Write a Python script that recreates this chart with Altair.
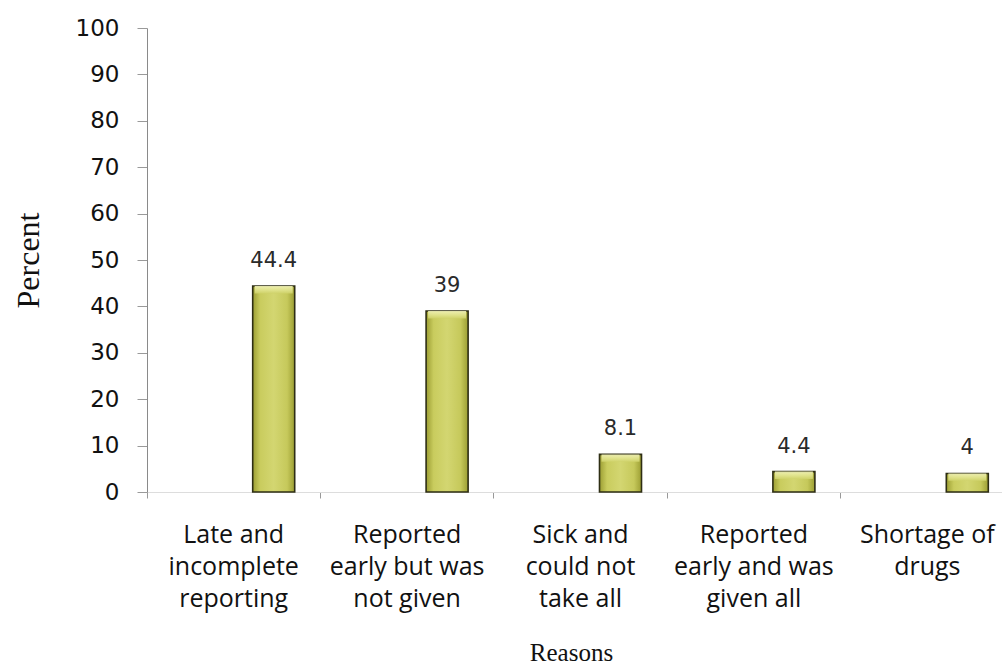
import altair as alt
import pandas as pd

# Reasons for not completing treatment, and the share of respondents giving each
reasons = [
    "Late and|incomplete|reporting",
    "Reported|early but was|not given",
    "Sick and|could not|take all",
    "Reported|early and was|given all",
    "Shortage of|drugs",
]
percent = [44.4, 39, 8.1, 4.4, 4]

df = pd.DataFrame({"reason": reasons, "percent": percent})

x_enc = alt.X(
    "reason:N",
    sort=reasons,
    scale=alt.Scale(range=[0, 867], paddingInner=0, paddingOuter=0),
    axis=alt.Axis(
        title="Reasons",
        titleFont="Liberation Serif",
        titleFontSize=25,
        titleFontWeight="normal",
        titleColor="#111111",
        titleX=424,
        titleY=168,
        titleBaseline="alphabetic",
        labelExpr="split(datum.label, '|')",
        labelFont="Open Sans",
        labelFontSize=25,
        labelColor="#111111",
        labelAngle=0,
        labelLineHeight=32,
        labelBaseline="alphabetic",
        labelPadding=44,
        labelLimit=300,
        bandPosition=0,
        tickSize=6,
        tickColor="#999999",
        domainColor="#dddddd",
        domainWidth=1,
    ),
)

y_enc = alt.Y(
    "percent:Q",
    scale=alt.Scale(domain=[0, 100], nice=False),
    axis=alt.Axis(
        title="Percent",
        titleFont="Liberation Serif",
        titleFontSize=32,
        titleFontWeight="normal",
        titleColor="#111111",
        titlePadding=30,
        values=list(range(0, 101, 10)),
        labelFont="DejaVu Sans",
        labelFontSize=23,
        labelColor="#111111",
        labelPadding=18,
        tickSize=10,
        tickColor="#9a9a9a",
        domainColor="#8a8a8a",
        grid=False,
    ),
)

bar_fill = alt.Gradient(
    gradient="linear",
    x1=0, x2=1, y1=0, y2=0,
    stops=[
        alt.GradientStop(color="#9c9e33", offset=0),
        alt.GradientStop(color="#c9cc5e", offset=0.18),
        alt.GradientStop(color="#d3d671", offset=0.5),
        alt.GradientStop(color="#c6c95b", offset=0.82),
        alt.GradientStop(color="#9c9e33", offset=1),
    ],
)

cap_fill = alt.Gradient(
    gradient="linear",
    x1=0, x2=0, y1=0, y2=1,
    stops=[
        alt.GradientStop(color="#f2f3b8", offset=0),
        alt.GradientStop(color="#dfe28a", offset=0.6),
        alt.GradientStop(color="#cfd26a", offset=1),
    ],
)

bars = alt.Chart(df).mark_bar(
    width=42,
    xOffset=40,
    color=bar_fill,
    stroke="#2e2e14",
    strokeWidth=1.6,
).encode(x=x_enc, y=y_enc)

# lighter bevel strip along the top of each bar
caps = alt.Chart(df).transform_calculate(
    cap_low="max(datum.percent - 1.6, datum.percent / 2)"
).mark_bar(
    width=38,
    xOffset=40,
    color=cap_fill,
    opacity=0.9,
).encode(
    x=alt.X("reason:N", sort=reasons),
    y=alt.Y("percent:Q"),
    y2=alt.Y2("cap_low:Q"),
)

labels = alt.Chart(df).mark_text(
    xOffset=40,
    dy=-19,
    baseline="alphabetic",
    font="DejaVu Sans",
    fontSize=21,
    color="#2a2a2a",
).encode(
    x=alt.X("reason:N", sort=reasons),
    y=alt.Y("percent:Q"),
    text=alt.Text("percent:Q", format="~g"),
)

chart = (
    alt.layer(bars, caps, labels)
    .properties(
        width=855,
        height=464,
        autosize=alt.AutoSizeParams(type="none"),
        padding={"left": 147, "top": 28, "right": 0, "bottom": 174},
        background="white",
    )
    .configure_view(stroke=None)
)

chart.save("out.html", embed_options={"renderer": "svg", "actions": False})
